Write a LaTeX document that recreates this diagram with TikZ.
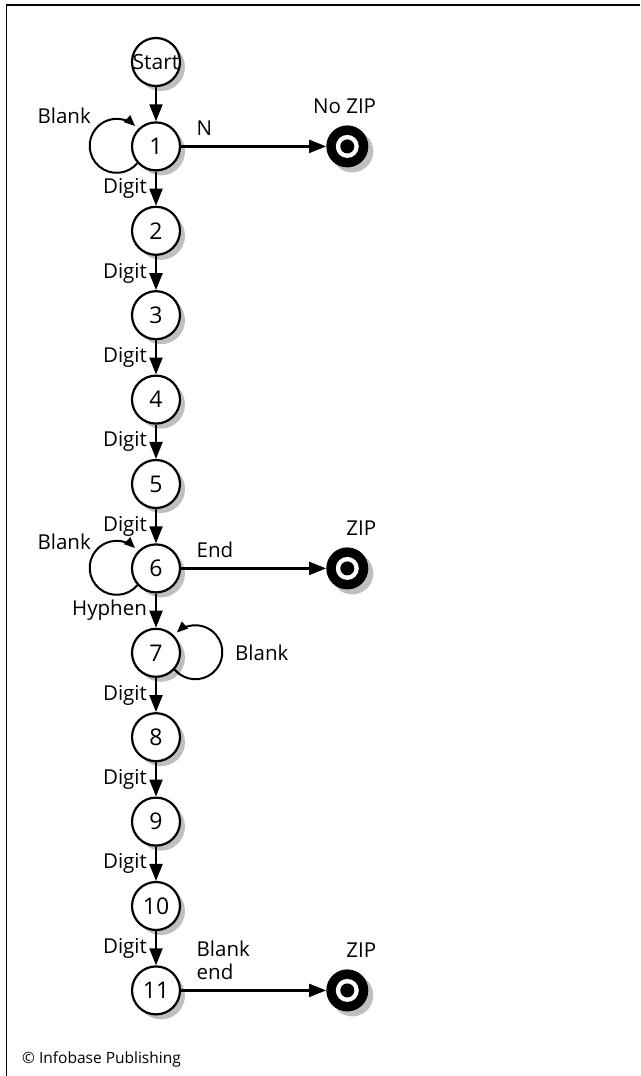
\documentclass[tikz,border=0pt]{standalone}
\usepackage{fontspec}
\setmainfont{Open Sans}
\usetikzlibrary{arrows.meta,positioning,shadows}

\begin{document}
\begin{tikzpicture}[
    x=1pt, y=1pt,
    font=\fontsize{20.5}{23}\selectfont,
    node distance=34.2pt and 145pt,
    shadowed/.style={drop shadow={shadow xshift=5pt, shadow yshift=-5pt, fill=black!25, opacity=1}},
    state/.style={circle, draw=black, line width=2.2pt, fill=white, minimum size=48pt,
        inner sep=0pt, font=\fontsize{23}{26}\selectfont, shadowed},
    final/.style={circle, fill=black, minimum size=42pt, inner sep=0pt, shadowed,
        path picture={\fill[white] (path picture bounding box.center) circle (11.5pt);
            \fill[black] (path picture bounding box.center) circle (7pt);}},
    arrow/.style={-{Triangle[length=17pt,width=13pt]}, line width=2.2pt},
    loopy/.style={-{Triangle[length=11pt,width=9pt]}, line width=2pt},
    dlbl/.style={left, inner sep=0pt, xshift=-8pt},
    elbl/.style={anchor=south west, inner sep=0pt, yshift=10pt, align=left},
    flbl/.style={anchor=base east, inner sep=0pt, xshift=14pt, yshift=18pt}
]
    \useasboundingbox (0,0) rectangle (640,-1076);
    \draw[line width=1.5pt] (640,-5) -- (6.5,-5) -- (6.5,-1076);

    % chain of states
    \node[state] (start) at (156,-62) {\makebox[0pt]{\fontsize{21}{24}\selectfont Start}};
    \node[state, below=of start] (s1) {1};
    \node[state, below=of s1] (s2) {2};
    \node[state, below=of s2] (s3) {3};
    \node[state, below=of s3] (s4) {4};
    \node[state, below=of s4] (s5) {5};
    \node[state, below=of s5] (s6) {6};
    \node[state, below=of s6] (s7) {7};
    \node[state, below=of s7] (s8) {8};
    \node[state, below=of s8] (s9) {9};
    \node[state, below=of s9] (s10) {10};
    \node[state, below=of s10] (s11) {11};

    % accepting states
    \node[final, right=of s1, label={[flbl]north east:No ZIP}] (nozip) {};
    \node[final, right=of s6, label={[flbl]north east:ZIP}] (zip6) {};
    \node[final, right=of s11, label={[flbl]north east:ZIP}] (zip11) {};

    \draw[arrow] (start) -- (s1);
    \draw[arrow] (s1) -- node[dlbl] {Digit} (s2);
    \draw[arrow] (s2) -- node[dlbl] {Digit} (s3);
    \draw[arrow] (s3) -- node[dlbl] {Digit} (s4);
    \draw[arrow] (s4) -- node[dlbl] {Digit} (s5);
    \draw[arrow] (s5) -- node[dlbl] {Digit} (s6);
    \draw[arrow] (s6) -- node[dlbl] {Hyphen} (s7);
    \draw[arrow] (s7) -- node[dlbl] {Digit} (s8);
    \draw[arrow] (s8) -- node[dlbl] {Digit} (s9);
    \draw[arrow] (s9) -- node[dlbl] {Digit} (s10);
    \draw[arrow] (s10) -- node[dlbl] {Digit} (s11);

    \draw[arrow] (s1) -- node[elbl, pos=0.1] {N} (nozip);
    \draw[arrow] (s6) -- node[elbl, pos=0.1] {End} (zip6);
    \draw[arrow] (s11) -- node[elbl, pos=0.1] {Blank\\end} (zip11);

    % blank loops
    \draw[loopy] (s1.222) arc[start angle=-40, end angle=-313, radius=27pt];
    \draw[loopy] (s6.222) arc[start angle=-40, end angle=-313, radius=27pt];
    \draw[loopy] (s7.-42) arc[start angle=220, end angle=493, radius=27pt];
    \node[anchor=base east, inner sep=0pt] (blank1) at ([xshift=-65pt, yshift=23pt]s1.center) {Blank};
    \node[anchor=base east, inner sep=0pt] (blank6) at ([xshift=-65pt, yshift=19pt]s6.center) {Blank};
    \node[anchor=west, inner sep=0pt] (blank7) at ([xshift=79pt]s7.center) {Blank};

    \node[anchor=base west, inner sep=0pt, font=\fontsize{15.5}{18}\selectfont] (credit) at (22,-1063) {© Infobase Publishing};
\end{tikzpicture}
\end{document}
